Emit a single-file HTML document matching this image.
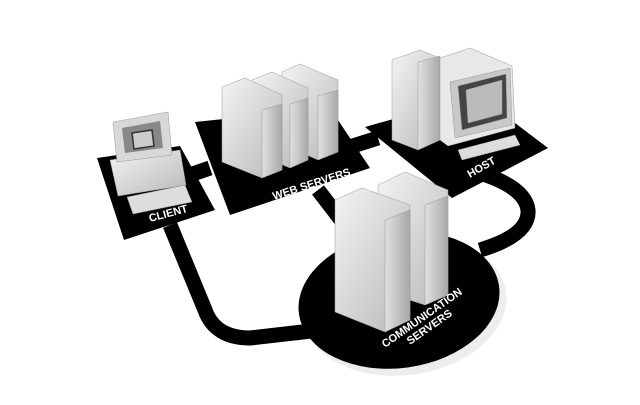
<!DOCTYPE html>
<html><head><style>
html,body{margin:0;padding:0;background:#fff;width:640px;height:405px;overflow:hidden}
text{font-family:"Liberation Sans",sans-serif;font-weight:bold;fill:#fff;font-size:11px}
</style></head><body>
<svg width="640" height="405" viewBox="0 0 640 405" xmlns="http://www.w3.org/2000/svg">
<defs>
<linearGradient id="g1" x1="0" y1="0" x2="1" y2="1"><stop offset="0" stop-color="#f4f4f4"/><stop offset="1" stop-color="#b8b8b8"/></linearGradient>
<linearGradient id="g2" x1="0" y1="0" x2="1" y2="0"><stop offset="0" stop-color="#e0e0e0"/><stop offset="1" stop-color="#a8a8a8"/></linearGradient>
</defs>
<g fill="#ddd" opacity="0.5">
<ellipse cx="405" cy="306" rx="102" ry="69" transform="rotate(-8 405 306)"/>
</g>
<g fill="none" stroke="#000" stroke-width="15" stroke-linejoin="round">
<path d="M170 225 L205 310 Q215 338 250 338 L320 330"/>
<path d="M470 170 Q525 185 528 210 Q530 235 480 250"/>
<path d="M175 180 L210 168"/>
<path d="M340 150 L378 138"/>
<path d="M318 190 L345 225"/>
</g>
<ellipse cx="399" cy="300" rx="101" ry="68" transform="rotate(-8 399 300)" fill="#000"/>
<polygon points="97,158 180,146 215,210 124,240" fill="#000"/>
<polygon points="195,122 330,108 370,168 230,215" fill="#000"/>
<polygon points="365,127 478,95 548,148 452,198" fill="#000"/>
<!-- client -->
<polygon points="110,160 180,150 186,185 118,196" fill="url(#g1)" stroke="#999" stroke-width="0.5"/>
<polygon points="113,122 168,112 172,155 117,162" fill="#d8d8d8" stroke="#999" stroke-width="0.5"/>
<polygon points="122,128 160,121 163,148 125,153" fill="#888"/>
<polygon points="132,133 152,130 154,146 134,149" fill="#ccc" stroke="#333" stroke-width="1.5"/>
<polygon points="127,197 185,185 192,202 133,214" fill="#ddd" stroke="#888" stroke-width="0.5"/>
<text transform="translate(150,222) rotate(-15)" font-size="11">CLIENT</text>
<!-- web servers -->
<g stroke="#999" stroke-width="0.5">
<polygon points="282,72 300,64 338,80 338,152 318,160 282,144" fill="url(#g1)"/>
<polygon points="252,80 272,72 308,88 308,160 290,168 252,152" fill="url(#g1)"/>
<polygon points="222,87 245,78 282,95 282,170 262,178 222,162" fill="url(#g1)"/>
<polygon points="262,110 282,104 282,170 262,178" fill="url(#g2)"/>
<polygon points="290,104 308,98 308,160 290,168" fill="url(#g2)"/>
<polygon points="318,96 338,90 338,152 318,160" fill="url(#g2)"/>
</g>
<text transform="translate(274,200) rotate(-18)" font-size="10">WEB SERVERS</text>
<!-- host -->
<g stroke="#999" stroke-width="0.5">
<polygon points="392,60 420,50 440,58 440,140 418,150 392,140" fill="url(#g1)"/>
<polygon points="418,62 440,56 440,140 418,150" fill="url(#g2)"/>
<polygon points="440,58 470,48 512,66 515,128 448,146 440,140" fill="#e8e8e8"/>
<polygon points="450,82 510,68 512,125 455,138" fill="#c8c8c8"/>
<polygon points="458,86 506,74 507,118 462,130" fill="#444"/>
<polygon points="466,90 502,80 502,114 468,123" fill="#bbb"/>
<polygon points="458,150 515,135 520,145 462,160" fill="#ddd"/>
</g>
<text transform="translate(470,178) rotate(-30)" font-size="10">HOST</text>
<!-- comm servers -->
<g stroke="#999" stroke-width="0.5">
<polygon points="378,185 405,172 448,190 448,295 425,305 378,290" fill="url(#g1)"/>
<polygon points="425,205 448,196 448,295 425,305" fill="url(#g2)"/>
<polygon points="335,200 362,188 410,205 410,320 385,332 335,312" fill="url(#g1)"/>
<polygon points="385,220 410,210 410,320 385,332" fill="url(#g2)"/>
</g>
<text transform="translate(385,348) rotate(-35)" font-size="10">COMMUNICATION</text>
<text transform="translate(410,345) rotate(-35)" font-size="10">SERVERS</text>
</svg>
</body></html>
